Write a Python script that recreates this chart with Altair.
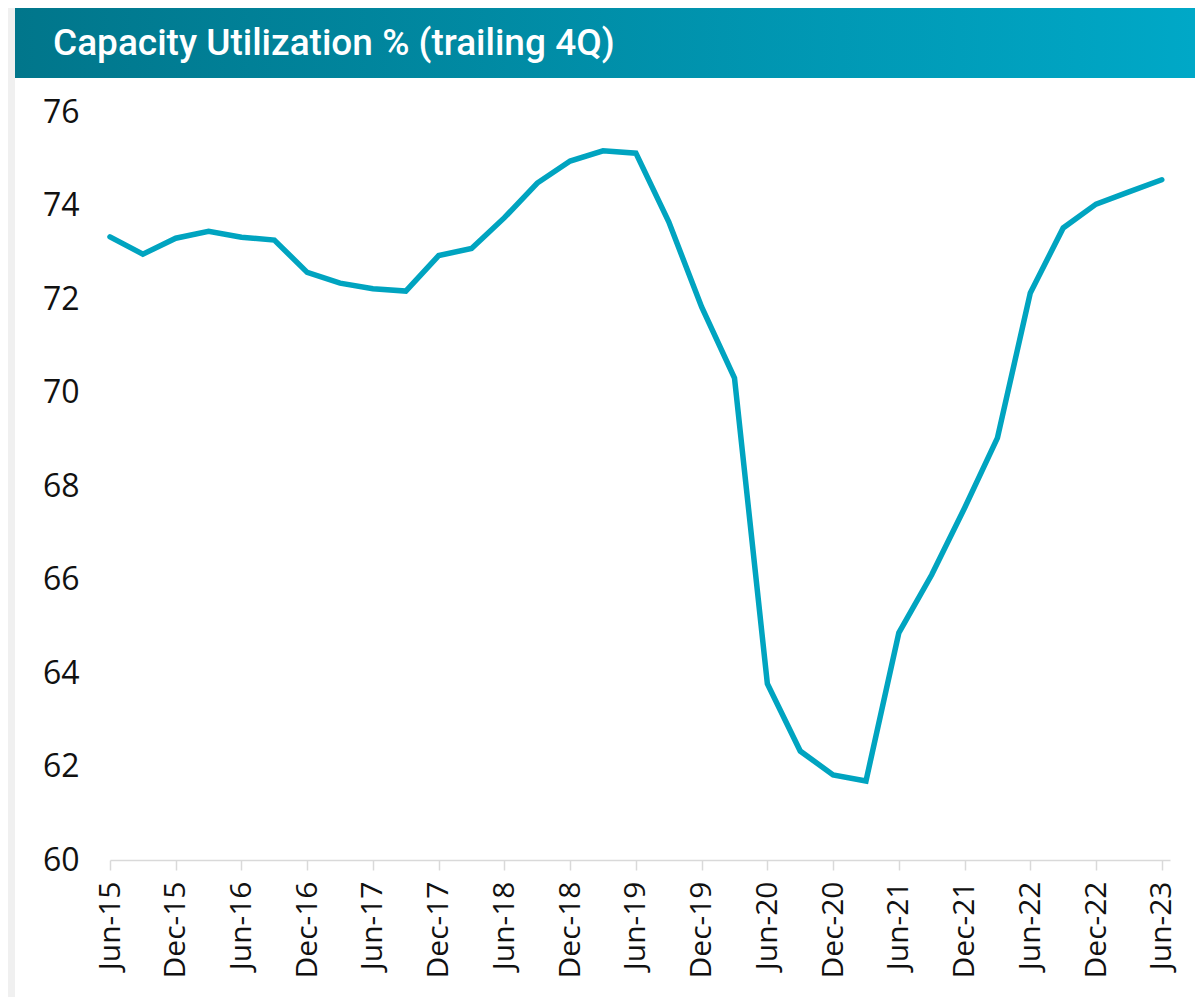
import json
import altair as alt
import pandas as pd

# ---- data ----
quarters = ["Jun-15", "Sep-15", "Dec-15", "Mar-16", "Jun-16", "Sep-16", "Dec-16",
            "Mar-17", "Jun-17", "Sep-17", "Dec-17", "Mar-18", "Jun-18", "Sep-18",
            "Dec-18", "Mar-19", "Jun-19", "Sep-19", "Dec-19", "Mar-20", "Jun-20",
            "Sep-20", "Dec-20", "Mar-21", "Jun-21", "Sep-21", "Dec-21", "Mar-22",
            "Jun-22", "Sep-22", "Dec-22", "Mar-23", "Jun-23"]
utilization = [73.33, 72.96, 73.30, 73.45, 73.32, 73.26, 72.57,
               72.34, 72.22, 72.17, 72.93, 73.08, 73.74, 74.48,
               74.95, 75.17, 75.12, 73.65, 71.83, 70.31, 63.77,
               62.33, 61.82, 61.69, 64.86, 66.10, 67.53, 69.03,
               72.13, 73.52, 74.03, 74.29, 74.55]
x_tick_positions = list(range(0, len(quarters), 2))
y_ticks = [60, 62, 64, 66, 68, 70, 72, 74, 76]
title_text = "Capacity Utilization % (trailing 4Q)"

df = pd.DataFrame({"idx": list(range(len(quarters))),
                   "quarter": quarters,
                   "value": utilization})
one = pd.DataFrame({"a": [0]})

W, H = 1060, 748

line = alt.Chart(df).mark_line(color="#00a4c0", strokeWidth=5.5, strokeCap="round").encode(
    x=alt.X("idx:Q",
            scale=alt.Scale(domain=[0, 32.25], nice=False, zero=False),
            axis=alt.Axis(values=x_tick_positions,
                          labelExpr=f"{json.dumps(quarters)}[datum.value]",
                          labelAngle=270, labelAlign="right", labelBaseline="middle",
                          labelFont="Open Sans", labelFontSize=30, labelColor="#111111",
                          labelPadding=11, tickSize=10, tickColor="#d9d9d9", tickWidth=1.5,
                          domainColor="#d9d9d9", domainWidth=1.5, grid=False, title=None,
                          labelOverlap=False, zindex=1)),
    y=alt.Y("value:Q",
            scale=alt.Scale(domain=[60, 76], nice=False, zero=False),
            axis=alt.Axis(values=y_ticks, domain=False, ticks=False, grid=False,
                          labelFont="Open Sans", labelFontSize=32, labelColor="#111111",
                          labelPadding=31, title=None, zindex=1)),
)

card = alt.Chart(one).mark_rect(color="white").encode(
    x=alt.value(-95), x2=alt.value(1085), y=alt.value(-34), y2=alt.value(885))

banner = alt.Chart(one).mark_rect(
    fill=alt.Gradient(gradient="linear",
                      stops=[alt.GradientStop(color="#01768b", offset=0),
                             alt.GradientStop(color="#00a8c7", offset=1)],
                      x1=0, x2=1, y1=0, y2=0)
).encode(x=alt.value(-95), x2=alt.value(1085), y=alt.value(-104), y2=alt.value(-34))

title = alt.Chart(one).mark_text(
    text=title_text, align="left", baseline="alphabetic",
    font="Roboto", fontSize=37, fontWeight=500, color="white"
).encode(x=alt.value(-57), y=alt.value(-57))

chart = alt.layer(card, banner, title, line).properties(
    width=W, height=H,
    padding={"left": 7, "top": 0, "right": 0, "bottom": 0},
    background="#f0f0f0",
).configure_view(stroke=None)

chart.save("out.html", embed_options={"renderer": "svg", "actions": False})
